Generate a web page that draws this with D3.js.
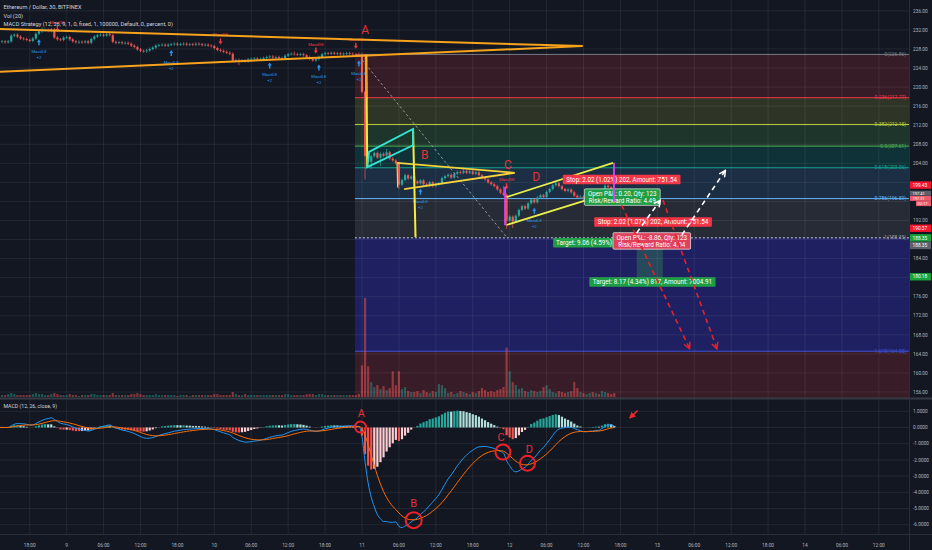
<!DOCTYPE html>
<html><head><meta charset="utf-8">
<script src="https://cdn.jsdelivr.net/npm/d3@7"></script>
<style>html,body{margin:0;padding:0;background:#131722;overflow:hidden}text{font-family:Roboto,"Noto Sans",sans-serif}</style>
</head><body>
<svg id="c" width="932" height="550"></svg>
<script>
// ---------- DATA ----------
const closes = [
229.5,229.6,229.4,229.6,230.8,231.0,230.6,230.2,230.1,229.9,
229.7,230.2,231.2,231.7,231.9,232.0,231.8,232.1,230.4,230.0,
229.9,230.4,230.5,230.0,229.6,229.4,229.5,229.4,229.6,229.3,
230.1,230.6,230.9,231.0,230.8,231.1,230.9,229.5,229.3,229.4,
229.2,229.3,229.1,228.7,228.4,227.9,227.6,227.5,227.7,228.0,
228.3,228.7,228.8,228.9,228.7,228.9,229.0,229.1,228.9,229.0,
229.1,228.9,229.0,228.9,229.1,229.0,228.8,228.9,228.7,228.6,
228.2,227.8,227.6,227.4,227.2,227.0,225.5,225.7,225.5,225.6,
225.4,225.8,225.9,226.0,225.8,225.9,226.1,226.3,226.4,226.2,
226.3,226.1,226.0,226.6,226.9,227.0,226.9,226.8,226.9,226.7,
226.3,225.9,225.6,225.9,226.3,226.9,227.1,227.0,227.2,227.0,
227.1,226.9,227.0,227.1,227.0,226.9,226.8,226.7,219.0,205.5,
204.3,205.5,206.2,205.2,206.0,205.6,206.3,205.0,204.6,204.0,
199.5,200.5,201.5,200.8,201.2,200.2,199.8,200.4,199.6,199.4,
200.0,199.3,199.6,199.8,200.9,201.3,201.6,201.0,201.8,202.2,
202.0,202.4,202.0,202.3,201.8,202.1,201.5,200.9,200.6,200.0,
199.6,199.2,198.5,197.8,197.4,192.0,192.8,191.8,193.0,194.2,
195.0,194.5,195.6,196.4,195.8,196.8,197.3,196.9,198.0,198.6,
199.4,199.8,199.2,198.6,198.2,198.5,197.9,197.2,196.8,197.0,
196.6,197.2,197.6,197.3,197.8,197.4,198.6,199.3,199.0,198.4,
197.3];
const firstOpen = 229.6;
const wickHighs = {14:232.5,17:232.4,37:231.2,96:227.5,117:227.3,118:227.2,126:207.0,151:203.2,164:199.2,197:200.2};
const wickLows  = {119:200.6,121:202.8,124:203.4,130:198.6,141:198.9,165:190.2,167:190.4,78:224.6};
const volumes = [
3,2,2,3,4,3,2,2,2,2, 2,3,4,3,3,2,2,3,4,3, 2,2,2,3,2,2,1,2,2,2, 3,3,2,2,2,2,2,4,2,2,
2,2,2,3,3,4,3,2,2,2, 2,3,2,2,2,2,2,2,1,2, 2,2,1,2,2,2,2,2,2,2, 3,3,2,2,2,2,5,3,2,2,
3,2,2,2,2,2,2,2,2,2, 2,2,2,3,3,2,2,2,2,2, 3,3,3,2,3,3,2,2,2,2, 2,2,2,2,2,2,2,3,32,100,
31,15,10,12,8,11,7,9,26,12, 26,8,10,6,5,5,6,4,7,5, 4,6,5,13,12,9,4,5,3,4, 6,5,4,3,5,4,6,9,7,5,
6,5,7,8,10,50,26,15,12,8, 9,6,5,7,6,5,6,10,12,8, 5,4,6,5,4,5,6,15,9,5, 4,3,4,5,4,3,6,5,4,3,4];
const priceTicks = [236,232,228,224,220,216,212,208,204,200,196,192,188,184,180,176,172,168,164,160,156];
const macdTicks = [1,0,-1,-2,-3,-4,-5,-6];
const timeTickLabels = ["18:00","9","06:00","12:00","18:00","10","06:00","12:00","18:00","11","06:00","12:00","18:00","12","06:00","12:00","18:00","13","06:00","12:00","18:00","14","06:00","12:00"];
const fibHigh = 226.86, fibLow = 188.35;
const fibLevels = [0,0.236,0.382,0.5,0.618,0.786,1,1.618,2.618];
const fibLineColors = ["#787b86","#f23645","#b5c93a","#4caf50","#16a393","#64b5f6","#d1d4dc","#3f51d8","#f23645"];
const fibLabelColors = ["#787b86","#f23645","#b5c93a","#4caf50","#16a393","#64b5f6","#9598a1","#3f51d8","#f23645"];
const fibFills = ["rgba(242,54,69,0.16)","rgba(190,200,60,0.17)","rgba(76,175,80,0.2)","rgba(0,150,136,0.22)","rgba(80,160,230,0.17)","rgba(120,123,134,0.2)","rgba(50,50,210,0.36)","rgba(242,54,69,0.17)"];
const axisPriceLabels = [
 {v:199.43,dy:0,fill:"#f7142e",text:"199.43"},
 {v:197.41,dy:-1.5,fill:"#5d606b",text:"197.41"},
 {v:197.41,dy:3.7,fill:"#ec5a6c",text:"197.31"},
 {v:197.41,dy:8.9,fill:"#ec5a6c",text:"02:17"},
 {v:190.37,dy:0,fill:"#f7142e",text:"190.37"},
 {v:188.35,dy:0,fill:"#18a33a",text:"188.35"},
 {v:188.35,dy:7.6,fill:"#5d606b",text:"188.35"},
 {v:180.18,dy:0,fill:"#18a33a",text:"180.18"}];
// drawings in (bar index, price) space
const triangleTop = [[-0.4,232.2],[189.7,228.6]];
const triangleBot = [[-0.4,223.2],[189.7,228.6]];
const yellowV1 = [[119.4,226.7],[119.7,203.2]];
const orangeV1 = [[119.2,226.9],[119.4,217.9]];
const yellowV2 = [[134.6,211.2],[135.4,188.5]];
const cyanFlag = [[120.3,206.4],[134.6,211.2],[134.6,207.8],[119.7,203.2]];
const pennantTop = [[129.4,204.1],[167.6,202.0]];
const pennantBot = [[131.7,198.6],[167.6,202.0]];
const pennantLeft = [[129.4,204.1],[129.6,198.9]];
const channelTop = [[165.0,196.9],[199.6,204.1]];
const channelBot = [[165.0,191.05],[199.6,198.0]];
const magenta1 = [[164.5,199.0],[164.5,191.0]];
const magenta2 = [[199.9,204.1],[199.9,195.9]];
const grayDash = [[118.0,225.7],[165.0,188.5]];
const whiteArrows = [[[207.3,189.4],[214.8,196.1]],[[222.0,189.0],[236.0,202.4]]];
const redArrows = [[[202.4,195.2],[224.4,165.2]],[[215.8,196.3],[233.3,165.2]]];
const letters = [["A",119.0,231.2],["B",138.4,205.0],["C",165.4,202.9],["D",174.6,200.3]];
const macdCircles = [[117.5,0.03,5.5],[134.8,-5.72,8],[163.8,-1.52,7.5],[171.8,-2.2,7.5]];
const macdLetters = [["A",117.8,0.62],["B",134.8,-4.88],["C",163.2,-0.85],["D",172.4,-1.55]];
const leMarkers = [13,56,88,104,117,137,174];
const seMarkers = [19,72,103,116,165];
const tradeBoxes = [
 {i:202.4,p:200.6,lines:["Stop: 2.02 (1.02%) 202, Amount: 751.54"],fill:"#f23645",stroke:null},
 {i:202.6,p:196.9,lines:["Open P&L: 0.20, Qty: 123","Risk/Reward Ratio: 4.49"],fill:"#1e9e44",stroke:"#e6e6e6"},
 {i:212.6,p:191.7,lines:["Stop: 2.02 (1.07%) 202, Amount: 751.54"],fill:"#f23645",stroke:null},
 {i:180.1,p:187.3,lines:["Target: 9.06 (4.59%) 906, Amount: 7004.91"],fill:"#1e9e44",stroke:null,left:true,maxW:60},
 {i:212.2,p:187.7,lines:["Open P&L: -8.86, Qty: 123","Risk/Reward Ratio: 4.04"],fill:"#e0405c",stroke:"#f0f0f0"},
 {i:212.4,p:179.1,lines:["Target: 8.17 (4.34%) 817, Amount: 7004.91"],fill:"#1e9e44",stroke:null}];
const targetZone = [[207.3,188.5],[215.8,179.3]];

// ---------- SCALES ----------
const t0 = new Date(2019,10,8,13,0);
const X = d3.scaleTime().domain([t0, new Date(2019,10,14,12,0)]).range([-1.03, 878.85]);
const bx = i => X(new Date(t0.getTime() + i*1800000));
const Y = d3.scaleLinear().domain([156,236]).range([391.97,10.85]);
const VY = d3.scaleLinear().domain([0,100]).range([397,298]);
const MY = d3.scaleLinear().domain([-6,1]).range([524.7,411.3]);
const plotR = 909;

const svg = d3.select("#c");
svg.append("rect").attr("width",932).attr("height",550).attr("fill","#131722");
const defs = svg.append("defs");
defs.append("clipPath").attr("id","pp").append("rect").attr("x",0).attr("y",0).attr("width",plotR).attr("height",398);
defs.append("clipPath").attr("id","mp").append("rect").attr("x",0).attr("y",400).attr("width",plotR).attr("height",134);
defs.append("marker").attr("id","ahw").attr("viewBox","0 0 10 10").attr("refX",8).attr("refY",5)
 .attr("markerWidth",5).attr("markerHeight",5).attr("orient","auto")
 .append("path").attr("d","M1,1 L9,5 L1,9").attr("fill","none").attr("stroke","#ffffff").attr("stroke-width",1.8);
defs.append("marker").attr("id","ahr").attr("viewBox","0 0 10 10").attr("refX",8).attr("refY",5)
 .attr("markerWidth",5).attr("markerHeight",5).attr("orient","auto")
 .append("path").attr("d","M1,1 L9,5 L1,9").attr("fill","none").attr("stroke","#e8202a").attr("stroke-width",1.8);
defs.append("marker").attr("id","ahr2").attr("viewBox","0 0 10 10").attr("refX",8).attr("refY",5)
 .attr("markerWidth",4).attr("markerHeight",4).attr("orient","auto")
 .append("path").attr("d","M0,0 L10,5 L0,10 Z").attr("fill","#f0282e");

const P = svg.append("g").attr("clip-path","url(#pp)");
const fibP = l => fibHigh - l*(fibHigh-fibLow);
const fibX0 = bx(115.7);
for (let k=0;k<fibLevels.length-1;k++){
  const y1 = Y(fibP(fibLevels[k])), y2 = Y(fibP(fibLevels[k+1]));
  P.append("rect").attr("x",fibX0).attr("y",y1).attr("width",plotR-fibX0).attr("height",y2-y1).attr("fill",fibFills[k]);
}
// grid
const gridC = "rgba(255,255,255,0.07)";
const tickTimes = timeTickLabels.map((l,k)=>new Date(2019,10,8,18+6*k,0));
svg.append("g").selectAll("line").data(priceTicks).join("line")
 .attr("x1",0).attr("x2",plotR).attr("y1",d=>Y(d)).attr("y2",d=>Y(d)).attr("stroke",gridC);
svg.append("g").selectAll("line").data(tickTimes).join("line")
 .attr("x1",d=>X(d)).attr("x2",d=>X(d)).attr("y1",0).attr("y2",534).attr("stroke",gridC);
svg.append("g").selectAll("line").data(macdTicks).join("line")
 .attr("x1",0).attr("x2",plotR).attr("y1",d=>MY(d)).attr("y2",d=>MY(d)).attr("stroke",gridC);
fibLevels.forEach((l,k)=>{
  const y = Y(fibP(l)); if (y>397) return;
  P.append("line").attr("x1",fibX0).attr("x2",plotR).attr("y1",y).attr("y2",y)
   .attr("stroke",fibLineColors[k]).attr("stroke-width",1).attr("stroke-dasharray",l===1?"2,2":null);
  P.append("text").attr("x",plotR-3).attr("y",y+1.6).attr("text-anchor","end").attr("font-size",5)
   .attr("fill",fibLabelColors[k]).text(`${l}(${fibP(l).toFixed(2)})`);
});

// candles
const opens = closes.map((c,i)=> i===0?firstOpen:closes[i-1]);
const highs = closes.map((c,i)=> wickHighs[i] ?? Math.max(c,opens[i])+0.3);
const lows  = closes.map((c,i)=> wickLows[i] ?? Math.min(c,opens[i])-0.3);
const up = i => closes[i] >= opens[i];
P.append("g").selectAll("rect").data(volumes).join("rect")
 .attr("x",(d,i)=>bx(i)-1.1).attr("width",2.2).attr("y",d=>VY(d)).attr("height",d=>397-VY(d))
 .attr("fill",(d,i)=>up(i)?"rgba(38,166,154,0.45)":"rgba(239,83,80,0.5)");
const cg = P.append("g");
cg.selectAll("line").data(closes).join("line")
 .attr("x1",(d,i)=>bx(i)).attr("x2",(d,i)=>bx(i)).attr("y1",(d,i)=>Y(highs[i])).attr("y2",(d,i)=>Y(lows[i]))
 .attr("stroke",(d,i)=>up(i)?"#26a69a":"#ef5350").attr("stroke-width",0.7);
cg.selectAll("rect").data(closes).join("rect")
 .attr("x",(d,i)=>bx(i)-1.1).attr("width",2.2)
 .attr("y",(d,i)=>Y(Math.max(d,opens[i]))).attr("height",(d,i)=>Math.max(0.7,Math.abs(Y(d)-Y(opens[i]))))
 .attr("fill",(d,i)=>up(i)?"#26a69a":"#ef5350");

// strategy markers
leMarkers.forEach(i=>{
  const y = Y(lows[i])+4, x = bx(i);
  P.append("path").attr("d",`M${x},${y} l-2,3 h1.3 v3 h1.4 v-3 h1.3 z`).attr("fill","#2196f3");
  P.append("text").attr("x",x).attr("y",y+14).attr("text-anchor","middle").attr("font-size",4.2).attr("fill","#2196f3").text("MacdLE");
  P.append("text").attr("x",x).attr("y",y+20).attr("text-anchor","middle").attr("font-size",4.2).attr("fill","#2196f3").text("+2");
});
seMarkers.forEach(i=>{
  const y = Y(highs[i])-4, x = bx(i);
  P.append("path").attr("d",`M${x},${y} l-2,-3 h1.3 v-3 h1.4 v3 h1.3 z`).attr("fill","#f23645");
  P.append("text").attr("x",x).attr("y",y-8).attr("text-anchor","middle").attr("font-size",4.2).attr("fill","#f23645").text("MacdSE");
});

// drawings
const line = d3.line().x(d=>bx(d[0])).y(d=>Y(d[1]));
const draw = (pts,color,w,dash,marker)=>{
  const p = P.append("path").attr("d",line(pts)).attr("fill","none").attr("stroke",color).attr("stroke-width",w);
  if (dash) p.attr("stroke-dasharray",dash);
  if (marker) p.attr("marker-end",`url(#${marker})`);
  return p;
};
P.append("rect").attr("x",bx(targetZone[0][0])).attr("y",Y(targetZone[0][1]))
 .attr("width",bx(targetZone[1][0])-bx(targetZone[0][0])).attr("height",Y(targetZone[1][1])-Y(targetZone[0][1]))
 .attr("fill","rgba(60,180,80,0.28)");
draw(grayDash,"#9598a1",1,"2.5,2.5");
draw(triangleTop,"#f7a21b",2);
draw(triangleBot,"#f7a21b",2);
draw(yellowV1,"#f5eb3b",2);
draw(orangeV1,"#f7a21b",2);
draw(yellowV2,"#f5eb3b",2);
P.append("path").attr("d",line(cyanFlag)+"Z").attr("fill","none").attr("stroke","#2ee6d6").attr("stroke-width",1.8);
draw(pennantTop,"#f5d33b",1.8);
draw(pennantBot,"#f5d33b",1.8);
draw(pennantLeft,"#f5d33b",1.2);
draw(channelTop,"#e9ef4a",1.8);
draw(channelBot,"#e9ef4a",1.8);

// trade boxes
tradeBoxes.forEach((b,bi)=>{
  const g = P.append("g");
  const fs = 6.3, lh = 7.0;
  const cx = bx(b.i), cy = Y(b.p);
  if (b.maxW){
    defs.append("clipPath").attr("id","tb"+bi).append("rect").attr("x",cx).attr("y",cy-10).attr("width",b.maxW).attr("height",20);
    g.attr("clip-path",`url(#tb${bi})`);
  }
  const texts = b.lines.map((t,k)=> g.append("text").attr("font-size",fs).attr("fill","#ffffff")
     .attr("text-anchor", b.left?"start":"middle")
     .attr("x", b.left?cx+3:cx).attr("y", cy - (b.lines.length-1)*lh/2 + k*lh + fs*0.36).text(t));
  const w = d3.max(texts, t=>t.node().getComputedTextLength()) + 7;
  const h = b.lines.length*lh + 2.5;
  g.insert("rect","text").attr("x", b.left?cx:cx-w/2).attr("y",cy-h/2).attr("width",w).attr("height",h)
   .attr("rx",1).attr("fill",b.fill).attr("stroke",b.stroke||"none").attr("stroke-width",0.7);
});
draw(magenta1,"#e040fb",1.8);
draw(magenta2,"#e040fb",1.8);
whiteArrows.forEach(a=>draw(a,"#ffffff",1.6,"5,4","ahw"));
redArrows.forEach(a=>draw(a,"#e8202a",1.6,"5,4","ahr"));
letters.forEach(([t,i,p])=>P.append("text").attr("x",bx(i)).attr("y",Y(p)).attr("text-anchor","middle")
  .attr("font-family","'Liberation Serif','DejaVu Serif',serif").attr("font-size",12).attr("fill","#e5303a").text(t));

// ---------- MACD ----------
const ema = (arr,n)=>{ const k=2/(n+1); let e=arr[0]; return arr.map(v=> (e = v*k + e*(1-k))); };
const e12 = ema(closes,12), e26 = ema(closes,26);
const macd = closes.map((c,i)=>e12[i]-e26[i]);
const signal = ema(macd,9);
const hist = macd.map((m,i)=>m-signal[i]);
const M = svg.append("g").attr("clip-path","url(#mp)");
M.append("g").selectAll("rect").data(hist).join("rect")
 .attr("x",(d,i)=>bx(i)-1.1).attr("width",2.2)
 .attr("y",d=>Math.min(MY(d),MY(0))).attr("height",d=>Math.abs(MY(d)-MY(0)))
 .attr("fill",(d,i)=>{ const pr = i? hist[i-1]:d;
   return d>=0 ? (d>=pr?"#26a69a":"#b2dfdb") : (d<pr?"#ef5350":"#ffcdd2"); });
const ml = d3.line().x((d,i)=>bx(i)).y(d=>MY(d)).curve(d3.curveMonotoneX);
M.append("path").attr("d",ml(macd)).attr("fill","none").attr("stroke","#2196f3").attr("stroke-width",1);
M.append("path").attr("d",ml(signal)).attr("fill","none").attr("stroke","#ff6d00").attr("stroke-width",1);
macdCircles.forEach(([i,v,r])=>M.append("circle").attr("cx",bx(i)).attr("cy",MY(v)).attr("r",r)
 .attr("fill","none").attr("stroke","#f0202a").attr("stroke-width",2));
macdLetters.forEach(([t,i,v])=>M.append("text").attr("x",bx(i)).attr("y",MY(v)).attr("text-anchor","middle")
 .attr("font-family","'Liberation Serif','DejaVu Serif',serif").attr("font-size",11).attr("fill","#e5303a").text(t));
M.append("line").attr("x1",bx(207.6)).attr("y1",MY(1.05)).attr("x2",bx(205.1)).attr("y2",MY(0.6))
 .attr("stroke","#f0282e").attr("stroke-width",1.6).attr("marker-end","url(#ahr2)");

// ---------- AXES / FRAME ----------
svg.append("line").attr("x1",0).attr("x2",932).attr("y1",398.5).attr("y2",398.5).attr("stroke","#363a45").attr("stroke-width",2);
svg.append("line").attr("x1",0).attr("x2",932).attr("y1",534.5).attr("y2",534.5).attr("stroke","#2a2e39");
svg.append("line").attr("x1",plotR+0.5).attr("x2",plotR+0.5).attr("y1",0).attr("y2",550).attr("stroke","#2a2e39");
const labelYs = axisPriceLabels.map(a=>Y(a.v)+a.dy);
const visibleTicks = priceTicks.filter(t=> !labelYs.some(y=>Math.abs(y-Y(t))<7));
svg.append("g").selectAll("text").data(visibleTicks).join("text")
 .attr("x",913).attr("y",d=>Y(d)+1.7).attr("font-size",4.8).attr("fill","#b2b5be").text(d=>d.toFixed(2));
svg.append("g").selectAll("text").data(macdTicks).join("text")
 .attr("x",913).attr("y",d=>MY(d)+1.7).attr("font-size",4.8).attr("fill","#b2b5be").text(d=>d.toFixed(4));
svg.append("g").selectAll("text").data(tickTimes).join("text")
 .attr("x",d=>X(d)).attr("y",546.5).attr("text-anchor","middle").attr("font-size",4.8).attr("fill","#b2b5be")
 .text((d,k)=>timeTickLabels[k]);
axisPriceLabels.forEach((a,k)=>{
  const y = labelYs[k];
  const long = a.text.length>5;
  const small = Math.abs(a.v-197.41)<0.01;
  const hgt = small?5.0:7.4, fs = small?4.0:4.8;
  svg.append("rect").attr("x",long?910:916).attr("y",y-hgt/2).attr("width",long?21:15).attr("height",hgt).attr("fill",a.fill);
  svg.append("text").attr("x",long?912.5:917.5).attr("y",y+fs*0.35).attr("font-size",fs).attr("fill","#ffffff").text(a.text);
});
const hdr = [["Ethereum / Dollar, 30, BITFINEX",9],["Vol (20)",17.5],["MACD Strategy (12, 26, 9, 1, 0, fixed, 1, 100000, Default, 0, percent, 0)",26]];
hdr.forEach(([t,y])=>svg.append("text").attr("x",3.5).attr("y",y).attr("font-size",5.6).attr("fill","#d1d4dc").text(t));
svg.append("text").attr("x",3.5).attr("y",408).attr("font-size",5.2).attr("fill","#d1d4dc").text("MACD (12, 26, close, 9)");
</script>
</body></html>
